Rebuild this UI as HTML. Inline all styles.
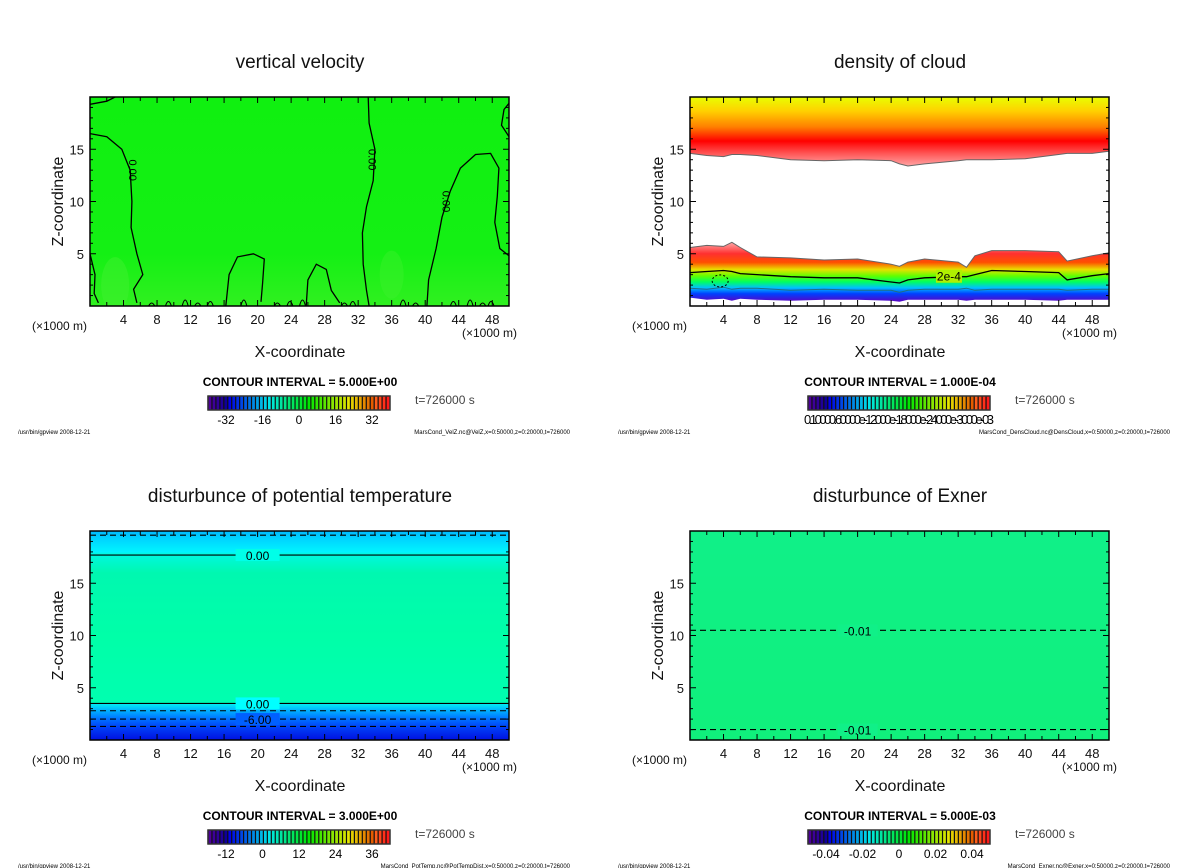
<!DOCTYPE html>
<html><head><meta charset="utf-8"><style>
body{margin:0;background:#fff;}
svg{display:block;font-family:"Liberation Sans","DejaVu Sans",sans-serif;}
</style></head><body>
<svg id="s" width="1200" height="868" viewBox="0 0 1200 868" xmlns="http://www.w3.org/2000/svg">
<defs>
<linearGradient id="gTL" x1="0" y1="0" x2="0" y2="1"><stop offset="0" stop-color="#10f010"/><stop offset="0.75" stop-color="#14f014"/><stop offset="1" stop-color="#30f020"/></linearGradient>
<linearGradient id="gBL" gradientUnits="userSpaceOnUse" x1="0" y1="531" x2="0" y2="740">
<stop offset="0" stop-color="#00b8ff"/><stop offset="0.03" stop-color="#00d0ff"/><stop offset="0.1" stop-color="#00f4ff"/><stop offset="0.11" stop-color="#00f8e0"/><stop offset="0.2" stop-color="#00f8b0"/><stop offset="0.5" stop-color="#00ffa8"/><stop offset="0.82" stop-color="#00ffb0"/><stop offset="0.83" stop-color="#00e8f8"/><stop offset="0.86" stop-color="#00b0ff"/><stop offset="0.9" stop-color="#0070ff"/><stop offset="0.94" stop-color="#0040f8"/><stop offset="1" stop-color="#0010e0"/></linearGradient>
<linearGradient id="gBR" x1="0" y1="0" x2="0" y2="1"><stop offset="0" stop-color="#10f088"/><stop offset="1" stop-color="#10f07c"/></linearGradient>
<linearGradient id="gUp" gradientUnits="userSpaceOnUse" x1="0" y1="97" x2="0" y2="168">
<stop offset="0" stop-color="#e8ff00"/><stop offset="0.2" stop-color="#ffd000"/><stop offset="0.42" stop-color="#ff8000"/><stop offset="0.62" stop-color="#ff0000"/><stop offset="0.8" stop-color="#ff5858"/><stop offset="1" stop-color="#ffb0b0"/></linearGradient>
<linearGradient id="gLo" gradientUnits="userSpaceOnUse" x1="0" y1="243" x2="0" y2="302">
<stop offset="0" stop-color="#ffa0a0"/><stop offset="0.18" stop-color="#ff3030"/><stop offset="0.33" stop-color="#ff5000"/><stop offset="0.45" stop-color="#e8e000"/><stop offset="0.56" stop-color="#60ff00"/><stop offset="0.66" stop-color="#00ff60"/><stop offset="0.76" stop-color="#00c0ff"/><stop offset="0.86" stop-color="#0040ff"/><stop offset="1" stop-color="#6000c0"/></linearGradient>
<clipPath id="c0"><rect x="90" y="97" width="419" height="209"/></clipPath>
<clipPath id="c1"><rect x="690" y="97" width="419" height="209"/></clipPath>
<clipPath id="c2"><rect x="90" y="531" width="419" height="209"/></clipPath>
<clipPath id="c3"><rect x="690" y="531" width="419" height="209"/></clipPath>
</defs>
</svg>
<script>
// ---- data ----
const xTicks=[4,8,12,16,20,24,28,32,36,40,44,48];
const zTicks=[5,10,15];
const titles=["vertical velocity","density of cloud","disturbunce of potential temperature","disturbunce of Exner"];
const intervals=["CONTOUR INTERVAL = 5.000E+00","CONTOUR INTERVAL = 1.000E-04","CONTOUR INTERVAL = 3.000E+00","CONTOUR INTERVAL = 5.000E-03"];
const cbLabels=[["-32","-16","0","16","32"],["0.10000.60000e-12000e-18000e-24000e-3000e-03"],["-12","0","12","24","36"],["-0.04","-0.02","0","0.02","0.04"]];
const footers=["MarsCond_VelZ.nc@VelZ,x=0:50000,z=0:20000,t=726000","MarsCond_DensCloud.nc@DensCloud,x=0:50000,z=0:20000,t=726000","MarsCond_PotTemp.nc@PotTempDist,x=0:50000,z=0:20000,t=726000","MarsCond_Exner.nc@Exner,x=0:50000,z=0:20000,t=726000"];
// velocity zero contours (x km, z km)
const velA=[[0,16.5],[2,16.2],[3.8,15],[4.8,13],[5,10],[4.9,7.5],[5.6,5],[6.3,3],[5.2,1.6],[5.6,0.3]];
const velB=[[33.2,20],[33.3,17.5],[34,15],[33.8,12],[33,9.5],[32.5,7],[32.6,4],[33,1.5],[33.3,0]];
const velC=[[40.2,0],[40.4,2.5],[41.3,5.5],[42,8.5],[43,11],[44.2,13.2],[46,14.5],[47.8,14.6],[48.8,13.2],[48.6,10.5],[48.3,8],[48.9,5.5],[50,4.8]];
const velD=[[0,19.3],[2,19.6],[3,20]];
const velE=[[50,16.2],[49.1,17.3],[49.4,18.8],[50,19.4]];
const velF=[[0,5],[0.6,3],[0.5,1.2],[1,0.3]];
const velG=[[16.2,0],[16.6,3],[17.6,4.7],[19.5,5],[20.8,4.5],[20.6,2.2],[20.4,0.4]];
const velH=[[25.8,0],[26,2.5],[27,4],[28.2,3.5],[28.8,1.5],[29.8,0.3]];
// cloud density
const cloudX=[0,2,4,5,6,8,12,16,20,24,25,26,28,32,33,34,36,40,44,45,48,50];
const upperBase=[14.6,14.4,14.3,14.5,14.5,14.4,14.0,13.9,14.0,13.9,13.6,13.4,13.6,13.9,14.0,14.0,14.0,14.1,14.5,14.6,14.6,14.8];
const lowerTop=[5.6,5.8,5.7,6.1,5.6,4.7,4.6,4.4,4.5,4.0,3.8,4.2,4.5,4.2,3.7,4.8,5.3,5.3,5.2,4.3,4.8,5.1];
const line2e4=[3.2,3.3,3.4,3.3,3.1,3.0,2.8,2.7,2.7,2.3,2.2,2.5,2.7,2.8,2.8,3.0,3.4,3.3,3.2,2.5,2.9,3.1];
const lineCyan=[1.7,1.6,1.8,1.6,1.7,1.7,1.5,1.6,1.5,1.5,1.3,1.5,1.6,1.6,1.7,1.5,1.6,1.6,1.6,1.5,1.6,1.6];
const lowerBot=[0.8,0.6,0.7,0.5,0.7,0.6,0.5,0.6,0.6,0.5,0.4,0.6,0.6,0.6,0.5,0.6,0.6,0.6,0.5,0.6,0.6,0.6];
// potential temperature contours (z, dashed, label)
const ptLevels=[19.6,17.7,3.5,2.8,2.0,1.3];
const ptDashed=[true,false,false,true,true,true];
const ptLabels=["","0.00","0.00","","-6.00",""];
// exner contours
const exLevels=[10.5,1.0];
const exLabels=["-0.01","-0.01"];

const NS="http://www.w3.org/2000/svg";
const S=document.getElementById('s');
function mk(tag,at,parent){const e=document.createElementNS(NS,tag);for(const k in at)e.setAttribute(k,at[k]);(parent||S).appendChild(e);return e;}
function txt(str,at,parent){const e=mk('text',at,parent);e.textContent=str;return e;}
const W=419,H=209;
const origins=[[90,97],[690,97],[90,531],[690,531]];
function sx(p,x){return origins[p][0]+x/50*W;}
function sz(p,z){return origins[p][1]+H-z/20*H;}
function pathOf(p,pts){return pts.map((q,i)=>(i?'L':'M')+sx(p,q[0]).toFixed(1)+' '+sz(p,q[1]).toFixed(1)).join(' ');}
function zip(xs,zs){return xs.map((x,i)=>[x,zs[i]]);}

for(let p=0;p<4;p++){
  const [ox,oy]=origins[p];
  const g=mk('g',{});
  
  
  const cx=ox+210;
  const t=txt(titles[p],{x:cx,y:oy-29,'text-anchor':'middle','font-size':19,fill:'#111'},g);
  
  
  const fills=['url(#gTL)','#ffffff','url(#gBL)','url(#gBR)'];
  const bg=mk('rect',{x:ox,y:oy,width:W,height:H,fill:fills[p]},g);
  
  
  const plot=mk('g',{'clip-path':'url(#c'+p+')'},g);
  
  
  if(p===0){
    mk('ellipse',{cx:sx(0,3),cy:sz(0,2),rx:14,ry:28,fill:'#40f030',opacity:0.5},plot);
    mk('ellipse',{cx:sx(0,36),cy:sz(0,3),rx:12,ry:24,fill:'#40f030',opacity:0.4},plot);
    [velA,velB,velC,velD,velE,velF,velG,velH].forEach(l=>{
      const c=mk('path',{d:pathOf(0,l),fill:'none',stroke:'#000','stroke-width':1.3},plot);
      
      
    });
    const wig=[7,9,11,12.5,14,18,22,23.5,25,30,31,37,38.5,43,45,46.5,47.5];
    wig.forEach((x,i)=>{
      mk('path',{d:`M${sx(0,x)} ${sz(0,0)} q3 -${6+(i%3)*3} 6 0`,fill:'none',stroke:'#000','stroke-width':1.1},plot);
    });
    [[5,13],[33.6,14],[42.4,10]].forEach(q=>{
      const l=txt('0.00',{x:sx(0,q[0]),y:sz(0,q[1]),'font-size':11,'text-anchor':'middle',transform:`rotate(90 ${sx(0,q[0])} ${sz(0,q[1])})`,'dominant-baseline':'middle',fill:'#000'},plot);
      
      
    });
  } else if(p===1){
    const u=mk('path',{d:pathOf(1,[[0,20],...zip(cloudX,upperBase),[50,20]])+'Z',fill:'url(#gUp)'},plot);
    
    
    mk('path',{d:pathOf(1,zip(cloudX,upperBase)),fill:'none',stroke:'#666','stroke-width':1},plot);
    const lo=zip(cloudX,lowerTop).concat(zip(cloudX,lowerBot).reverse());
    const lw=mk('path',{d:pathOf(1,lo)+'Z',fill:'url(#gLo)'},plot);
    
    
    mk('path',{d:pathOf(1,zip(cloudX,lowerTop)),fill:'none',stroke:'#666','stroke-width':1},plot);
    const l2=mk('path',{d:pathOf(1,zip(cloudX,line2e4)),fill:'none',stroke:'#000','stroke-width':1.3},plot);
    
    
    mk('path',{d:pathOf(1,zip(cloudX,lineCyan)),fill:'none',stroke:'#207080','stroke-width':1},plot);
    mk('rect',{x:sx(1,30.9)-13,y:sz(1,2.8)-7,width:26,height:13,fill:'#b0f000'},plot);
    const lb=txt('2e-4',{x:sx(1,30.9),y:sz(1,2.8)+4,'font-size':12,'text-anchor':'middle',fill:'#000'},plot);
    
    
    mk('ellipse',{cx:sx(1,3.6),cy:sz(1,2.4),rx:8,ry:6,fill:'none',stroke:'#000','stroke-width':1,'stroke-dasharray':'2 2'},plot);
  } else if(p===2){
    ptLevels.forEach((z,i)=>{
      const y=sz(2,z);
      const l=mk('line',{x1:ox,x2:ox+W,y1:y,y2:y,stroke:'#000','stroke-width':1.1},plot);
      if(ptDashed[i])l.setAttribute('stroke-dasharray','6 4');
      
      
      if(ptLabels[i]){
        mk('rect',{x:sx(2,20)-22,y:y-6,width:44,height:12,fill:i===4?'#0060ff':(i===1?'#00ffe8':'#00ffff')},plot);
        const lb=txt(ptLabels[i],{x:sx(2,20),y:y+5,'font-size':12,'text-anchor':'middle',fill:'#000'},plot);
        
        
      }
    });
  } else {
    exLevels.forEach((z,i)=>{
      const y=sz(3,z);
      const l=mk('line',{x1:ox,x2:ox+W,y1:y,y2:y,stroke:'#000','stroke-width':1.1,'stroke-dasharray':'6 4'},plot);
      
      
      mk('rect',{x:sx(3,20)-20,y:y-6,width:40,height:12,fill:'#10f088'},plot);
      const lb=txt(exLabels[i],{x:sx(3,20),y:y+5,'font-size':12,'text-anchor':'middle',fill:'#000'},plot);
      
      
    });
  }
  const fr=mk('rect',{x:ox,y:oy,width:W,height:H,fill:'none',stroke:'#000','stroke-width':1.5},g);
  
  
  for(let x=2;x<50;x+=2){
    const L=(x%4===0)?6:4;
    mk('line',{x1:sx(p,x),x2:sx(p,x),y1:oy+H,y2:oy+H-L,stroke:'#000','stroke-width':1},g);
    mk('line',{x1:sx(p,x),x2:sx(p,x),y1:oy,y2:oy+L,stroke:'#000','stroke-width':1},g);
  }
  for(let z=1;z<20;z++){
    const L=(z%5===0)?6:3;
    mk('line',{x1:ox,x2:ox+L,y1:sz(p,z),y2:sz(p,z),stroke:'#000','stroke-width':1},g);
    mk('line',{x1:ox+W,x2:ox+W-L,y1:sz(p,z),y2:sz(p,z),stroke:'#000','stroke-width':1},g);
  }
  xTicks.forEach(x=>{
    const e=txt(String(x),{x:sx(p,x),y:oy+H+18,'font-size':13,'text-anchor':'middle',fill:'#111'},g);
    
    
  });
  zTicks.forEach(z=>{
    const e=txt(String(z),{x:ox-6,y:sz(p,z)+5,'font-size':13,'text-anchor':'end',fill:'#111'},g);
    
    
  });
  const u1=txt('(×1000 m)',{x:ox-58,y:oy+H+24,'font-size':12,fill:'#111'},g);
  
  
  const u2=txt('(×1000 m)',{x:ox+W+8,y:oy+H+31,'font-size':12,'text-anchor':'end',fill:'#111'},g);
  
  
  const xt=txt('X-coordinate',{x:cx,y:oy+H+51,'font-size':16,'text-anchor':'middle',fill:'#111'},g);
  
  
  const zt=txt('Z-coordinate',{x:0,y:0,'font-size':16,'text-anchor':'middle',fill:'#111',transform:`translate(${ox-27} ${oy+H/2}) rotate(-90)`},g);
  
  
  const ci=txt(intervals[p],{x:cx,y:oy+H+80,'font-size':12,'text-anchor':'middle',fill:'#000','font-weight':'bold'},g);
  
  
  const tt=txt('t=726000 s',{x:ox+325,y:oy+H+98,'font-size':12,fill:'#444'},g);
  
  
  const cb=mk('g',{},g);
  
  
  const bx=ox+118,by=oy+H+90,bw=182,bh=14,n=46;
  for(let i=0;i<n;i++){
    const f=i/(n-1);
    let h=270-f*270;
    let l=f>0.92?55:(f<0.1?30:45);
    mk('rect',{x:bx+i*bw/n,y:by,width:bw/n+0.3,height:bh,fill:`hsl(${h},100%,${l}%)`},cb);
    mk('line',{x1:bx+i*bw/n,x2:bx+i*bw/n,y1:by,y2:by+bh,stroke:'#111','stroke-width':1.2},cb);
  }
  mk('rect',{x:bx,y:by,width:bw,height:bh,fill:'none',stroke:'#333','stroke-width':1.5},cb);
  const labs=cbLabels[p];
  if(labs.length===1){
    const e=txt(labs[0],{x:bx+bw/2,y:by+28,'font-size':13,'text-anchor':'middle',fill:'#000','textLength':190},cb);
    
    
  } else {
    labs.forEach((s,i)=>{
      const e=txt(s,{x:bx+18+i*36.5,y:by+28,'font-size':12,'text-anchor':'middle',fill:'#000'},cb);
      
      
    });
  }
  const f1=txt('/usr/bin/gpview   2008-12-21',{x:ox-72,y:oy+H+128,'font-size':6,fill:'#000'},g);
  
  
  const f2=txt(footers[p],{x:ox+480,y:oy+H+128,'font-size':6,'text-anchor':'end',fill:'#000'},g);
  
  
}
</script>
</body></html>
